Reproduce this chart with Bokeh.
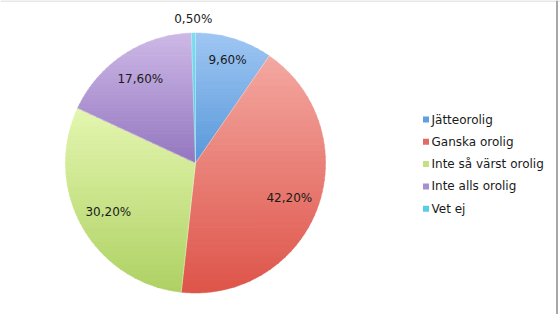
import numpy as np
from bokeh.plotting import figure
from bokeh.models import Range1d, Span
from bokeh.core.properties import value
from bokeh.embed import file_html
from bokeh.resources import INLINE

# ---- data ----
categories = ["Jätteorolig", "Ganska orolig", "Inte så värst orolig", "Inte alls orolig", "Vet ej"]
shares = [9.6, 42.2, 30.2, 17.6, 0.5]
labels = ["9,60%", "42,20%", "30,20%", "17,60%", "0,50%"]

# ---- styles ----
top_colors = ["#9fc6f3", "#f3a8a1", "#e4f6b0", "#cdb9e7", "#7fdcf0"]
bottom_colors = ["#5898da", "#de5449", "#aed163", "#9476bf", "#45c2df"]
legend_colors = ["#629fe0", "#e46b62", "#c5e084", "#a890d0", "#58cde8"]

W, H = 560, 314
cx, cy = 195, H - 162.5
R = 130

p = figure(width=W, height=H, output_backend="svg", toolbar_location=None, tools="",
           x_range=Range1d(0, W), y_range=Range1d(0, H), min_border=0,
           background_fill_color="white", border_fill_color="white")
p.axis.visible = False
p.grid.visible = False
p.outline_line_color = None


def hexrgb(h):
    h = h.lstrip("#")
    return np.array([int(h[i:i + 2], 16) for i in (0, 2, 4)], dtype=float)


def clip(poly, ylo, yhi):
    def clip_half(pts, keep, inter):
        out = []
        n = len(pts)
        for i in range(n):
            a, b = pts[i], pts[(i + 1) % n]
            ka, kb = keep(a), keep(b)
            if ka:
                out.append(a)
            if ka != kb:
                out.append(inter(a, b))
        return out

    def iy(yv):
        def f(a, b):
            t = (yv - a[1]) / (b[1] - a[1])
            return (a[0] + t * (b[0] - a[0]), yv)
        return f

    pts = clip_half(poly, lambda q: q[1] >= ylo, iy(ylo))
    if not pts:
        return []
    pts = clip_half(pts, lambda q: q[1] <= yhi, iy(yhi))
    return pts


total = sum(shares)
fr = np.cumsum([0] + shares) / total
xs_all, ys_all, cols_all = [], [], []
NB = 40
for i, s in enumerate(shares):
    a0, a1 = 2 * np.pi * fr[i], 2 * np.pi * fr[i + 1]
    th = np.linspace(a0, a1, max(4, int(200 * (a1 - a0))))
    poly = [(cx, cy)] + [(cx + R * np.sin(t), cy + R * np.cos(t)) for t in th]
    ymin = min(q[1] for q in poly)
    ymax = max(q[1] for q in poly)
    c_top, c_bot = hexrgb(top_colors[i]), hexrgb(bottom_colors[i])
    edges = np.linspace(ymin, ymax, NB + 1)
    for b in range(NB):
        ylo, yhi = edges[b], edges[b + 1] + 0.6
        part = clip(poly, ylo, yhi)
        if len(part) < 3:
            continue
        t = 1 - (b + 0.5) / NB
        c = c_top * (1 - t) + c_bot * t
        xs_all.append([q[0] for q in part])
        ys_all.append([q[1] for q in part])
        cols_all.append("#%02x%02x%02x" % tuple(int(round(v)) for v in c))

p.patches(xs_all, ys_all, fill_color=cols_all, line_color=cols_all, line_width=0.5)

# slice separators (thin white)
for i in range(len(shares)):
    a = 2 * np.pi * fr[i]
    p.line([cx, cx + R * np.sin(a)], [cy, cy + R * np.cos(a)], line_color="white", line_width=0.6, line_alpha=0.6)

# data labels
lx, ly = [], []
for i, s in enumerate(shares):
    am = np.pi * (fr[i] + fr[i + 1])
    r = R + 14 if s < 2 else (0.83 * R if i == 0 else 0.77 * R)
    lx.append(cx + r * np.sin(am))
    ly.append(cy + r * np.cos(am))
p.text(lx, ly, text=labels, text_align="center", text_baseline="middle",
       text_font=value("DejaVu Sans"), text_font_size="12px", text_color="#1a1a1a")

# legend
leg_y = [H - (119 + 22.3 * i) for i in range(len(categories))]
p.scatter([425.5] * len(categories), leg_y, marker="square", size=6,
          fill_color=legend_colors, line_color=None)
p.text([431] * len(categories), leg_y, text=categories, text_align="left", text_baseline="middle",
       text_font=value("DejaVu Sans"), text_font_size="12px", text_color="#1a1a1a")

# frame lines
p.add_layout(Span(location=H - 0.5, dimension="width", line_color="#d0d0d0", line_width=1))
p.add_layout(Span(location=556.5, dimension="height", line_color="#a8a8a8", line_width=2))

open("out.html", "w").write(file_html(p, INLINE))
